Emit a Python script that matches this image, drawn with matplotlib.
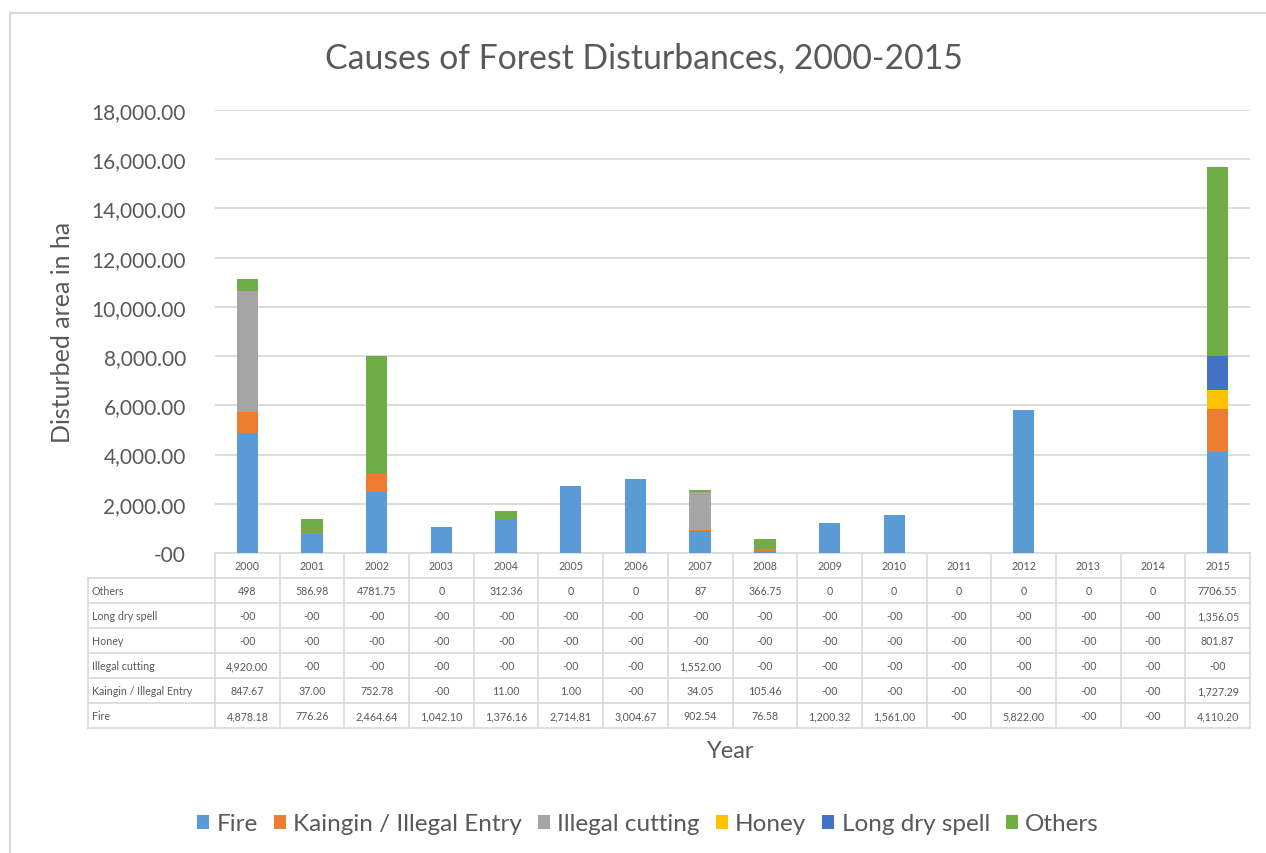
import matplotlib
matplotlib.use("Agg")
import matplotlib.pyplot as plt

# ---------------- data ----------------
years = ["2000", "2001", "2002", "2003", "2004", "2005", "2006", "2007",
         "2008", "2009", "2010", "2011", "2012", "2013", "2014", "2015"]
fire = [4878.18, 776.26, 2464.64, 1042.10, 1376.16, 2714.81, 3004.67, 902.54,
        76.58, 1200.32, 1561.00, 0, 5822.00, 0, 0, 4110.20]
kaingin = [847.67, 37.00, 752.78, 0, 11.00, 1.00, 0, 34.05,
           105.46, 0, 0, 0, 0, 0, 0, 1727.29]
illegal_cutting = [4920.00, 0, 0, 0, 0, 0, 0, 1552.00,
                   0, 0, 0, 0, 0, 0, 0, 0]
honey = [0, 0, 0, 0, 0, 0, 0, 0, 0, 0, 0, 0, 0, 0, 0, 801.87]
long_dry_spell = [0, 0, 0, 0, 0, 0, 0, 0, 0, 0, 0, 0, 0, 0, 0, 1356.05]
others = [498, 586.98, 4781.75, 0, 312.36, 0, 0, 87,
          366.75, 0, 0, 0, 0, 0, 0, 7706.55]

series_names = ["Fire", "Kaingin / Illegal Entry", "Illegal cutting",
                "Honey", "Long dry spell", "Others"]
series_values = [fire, kaingin, illegal_cutting, honey, long_dry_spell, others]
series_colors = ["#5B9BD5", "#ED7D31", "#A5A5A5", "#FFC000", "#4472C4", "#70AD47"]
y_ticks = [0, 2000, 4000, 6000, 8000, 10000, 12000, 14000, 16000, 18000]

# --------------- styling ---------------
FONT = ["Lato", "DejaVu Sans"]
plt.rcParams["font.family"] = FONT
TXT = "#595959"
GRID = "#D9D9D9"

W, H = 1266, 854
fig = plt.figure(figsize=(W / 100, H / 100), dpi=100)


def fx(px):
    return px / W


def fy(py):
    return 1 - py / H


# overlay axes in pixel coordinates (for table, borders, legend)
ov = fig.add_axes([0, 0, 1, 1])
ov.set_xlim(0, W)
ov.set_ylim(H, 0)
ov.axis("off")

# chart border (left/top visible)
ov.plot([9.5, 9.5], [13.5, H + 5], color=GRID, lw=1.5)
ov.plot([9.5, W + 5], [13.5, 13.5], color=GRID, lw=1.5)

# plot area
PX0, PX1 = 215, 1250
PY0, PY1 = 111, 554
ax = fig.add_axes([fx(PX0), fy(PY1), fx(PX1) - fx(PX0), fy(PY0) - fy(PY1)])
n = len(years)
ax.set_xlim(-0.5, n - 0.5)
ax.set_ylim(0, 18000)
x = list(range(n))
bottom = [0.0] * n
for name, vals, col in zip(series_names, series_values, series_colors):
    ax.bar(x, vals, width=0.33, bottom=bottom, color=col, label=name, zorder=3)
    bottom = [b + v for b, v in zip(bottom, vals)]

ax.set_yticks(y_ticks)
ax.set_yticklabels(["-00" if t == 0 else f"{t:,.2f}" for t in y_ticks])
ax.tick_params(axis="y", length=0, pad=21, labelsize=15, labelcolor=TXT)
ax.set_xticks([])
ax.grid(axis="y", color=GRID, lw=1.3, zorder=0)
for s in ax.spines.values():
    s.set_visible(False)
ax.set_facecolor("none")

# axis titles
fig.text(fx(62), fy(332), "Disturbed area in ha", rotation=90, ha="center",
         va="center", fontsize=18, color=TXT)
fig.text(fx(731), fy(752), "Year", ha="center", va="center", fontsize=17, color=TXT)

# title
fig.text(fx(644), fy(58), "Causes of Forest Disturbances, 2000-2015",
         ha="center", va="center", fontsize=24.3, color=TXT)

# --------------- data table ---------------
col_w = (PX1 - PX0) / n
LBL_X0 = 88
row_h = 25
T_TOP = 554
rows_order = ["Others", "Long dry spell", "Honey", "Illegal cutting",
              "Kaingin / Illegal Entry", "Fire"]
row_vals = {"Others": others, "Long dry spell": long_dry_spell, "Honey": honey,
            "Illegal cutting": illegal_cutting,
            "Kaingin / Illegal Entry": kaingin, "Fire": fire}


def fmt(name, v):
    if name == "Others":
        return f"{v:g}"
    return "-00" if v == 0 else f"{v:,.2f}"


LC = "#D9D9D9"
LW = 1.2
n_rows = len(rows_order)
T_BOT = T_TOP + row_h * (n_rows + 1)
ov.plot([PX0, PX1], [T_TOP, T_TOP], color=LC, lw=LW)
for r in range(1, n_rows + 2):
    yy = T_TOP + r * row_h
    ov.plot([LBL_X0, PX1], [yy, yy], color=LC, lw=LW)
ov.plot([LBL_X0, LBL_X0], [T_TOP + row_h, T_BOT], color=LC, lw=LW)
for c in range(n + 1):
    xx = PX0 + c * col_w
    ov.plot([xx, xx], [T_TOP, T_BOT], color=LC, lw=LW)

TFS = 7.7
for c, yr in enumerate(years):
    ov.text(PX0 + (c + 0.5) * col_w, T_TOP + row_h / 2, yr, ha="center",
            va="center", fontsize=TFS, color=TXT)
for r, name in enumerate(rows_order):
    yc = T_TOP + (r + 1.5) * row_h
    ov.text(LBL_X0 + 4, yc, name, ha="left", va="center", fontsize=TFS, color=TXT)
    for c, v in enumerate(row_vals[name]):
        ov.text(PX0 + (c + 0.5) * col_w, yc, fmt(name, v), ha="center",
                va="center", fontsize=TFS, color=TXT)

# legend
leg = fig.legend(*ax.get_legend_handles_labels(), loc="center",
                 bbox_to_anchor=(fx(648), fy(825)), ncol=6, frameon=False,
                 fontsize=17.5, handlelength=0.5, handleheight=0.5,
                 handletextpad=0.3, columnspacing=0.65, labelcolor=TXT)

fig.savefig("out.png", dpi=100)
